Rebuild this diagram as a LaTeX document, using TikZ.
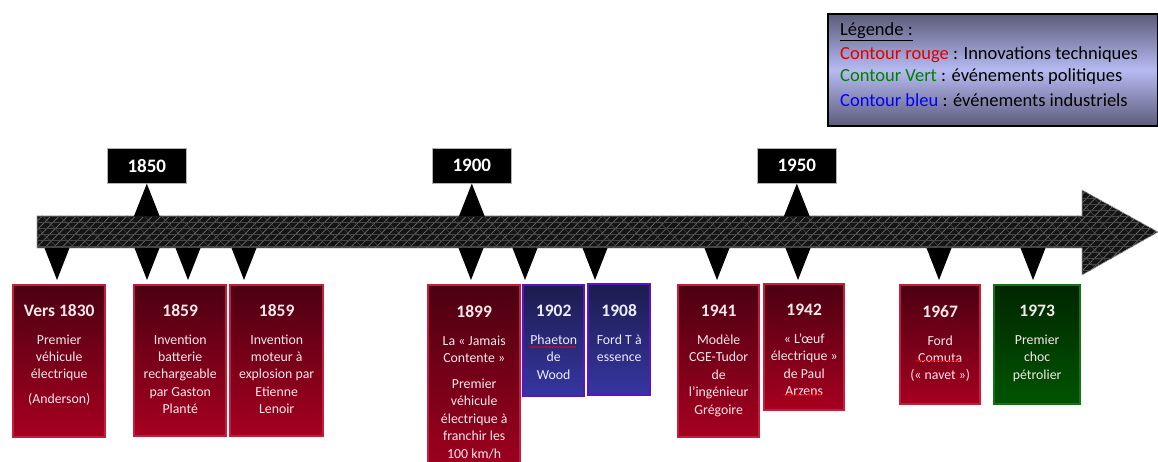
\documentclass[tikz,border=0pt]{standalone}
\usepackage{fontspec}
\setmainfont{Carlito}
\usetikzlibrary{patterns.meta,decorations.pathmorphing}

\definecolor{redborder}{HTML}{C41E3E}
\definecolor{redtop}{HTML}{4C0012}
\definecolor{redbot}{HTML}{A6001F}
\definecolor{blueborder}{HTML}{5A14C8}
\definecolor{bluetop}{HTML}{1C1C4E}
\definecolor{bluebot}{HTML}{3636A2}
\definecolor{greenborder}{HTML}{147214}
\definecolor{greentop}{HTML}{002600}
\definecolor{greenbot}{HTML}{005400}
\definecolor{redtext}{HTML}{F8E8EC}
\definecolor{bluetext}{HTML}{ECECFF}
\definecolor{legtop}{HTML}{5C5C7A}
\definecolor{legmid}{HTML}{B6BAF2}
\definecolor{legred}{HTML}{E00000}
\definecolor{leggreen}{HTML}{008000}
\definecolor{legblue}{HTML}{0000FF}

\tikzset{
  evbox/.style={anchor=north west, inner sep=0pt, line width=2.4pt},
  redbox/.style={evbox, draw=redborder, top color=redtop, bottom color=redbot},
  bluebox/.style={evbox, draw=blueborder, top color=bluetop, bottom color=bluebot},
  greenbox/.style={evbox, draw=greenborder, top color=greentop, bottom color=greenbot},
  evtext/.style={anchor=north, inner sep=0pt, align=center, text=redtext,
    font=\fontsize{13.8}{17.4}\selectfont},
  yearbox/.style={anchor=north west, fill=black, draw=gray!60, line width=0.6pt,
    minimum width=79pt, minimum height=35pt, inner sep=0pt, text=white,
    font=\fontsize{19}{20}\selectfont\bfseries},
  tick/.style={fill=black},
  legtext/.style={anchor=west, inner sep=0pt, font=\fontsize{18.5}{20}\selectfont},
  spell/.style={draw=red, line width=0.5pt,
    decorate, decoration={snake, amplitude=0.7pt, segment length=3pt}}
}
\newcommand\yr[1]{{\fontsize{17.5}{17.4}\selectfont\bfseries #1}}
% downward marker under the time axis, apex at (#2,280)
\newcommand\downmark[2]{\coordinate (#1) at (#2,280);
  \fill[tick] (#1) -- ++(-12.5,-32) -- ++(25,0) -- cycle;}
% upward marker from a year label down to the axis
\newcommand\upmark[1]{\fill[tick] (#1.south) -- ++(-13,33) -- ++(26,0) -- cycle;}

\begin{document}
\begin{tikzpicture}[x=1pt,y=-1pt]
\clip (0,0) rectangle (1158,462);
\fill[white] (0,0) rectangle (1158,462);

% time axis arrow
\path[fill=black!92, draw=gray!70, line width=0.6pt,
      postaction={pattern={Lines[angle=45,distance=6pt,line width=0.7pt]}, pattern color=gray!85!black},
      postaction={pattern={Lines[angle=-45,distance=12pt,line width=0.45pt]}, pattern color=gray!60!black},
      postaction={pattern={Lines[angle=0,distance=6pt,line width=0.35pt]}, pattern color=gray!55!black}]
  (37,216) -- (1082,216) -- (1082,190) -- (1158,232) -- (1082,275) -- (1082,248) -- (37,248) -- cycle;

% year labels above the axis
\node[yearbox] (y1850) at (107,148) {1850};
\node[yearbox] (y1900) at (432,148) {1900};
\node[yearbox] (y1950) at (757,148) {1950};
\upmark{y1850}
\upmark{y1900}
\upmark{y1950}

% markers below the axis
\downmark{m1830}{57}
\downmark{m1859a}{147}
\downmark{m1859b}{188}
\downmark{m1859c}{244}
\downmark{m1899}{471}
\downmark{m1902}{525}
\downmark{m1908}{595}
\downmark{m1941}{717}
\downmark{m1942}{798}
\downmark{m1967}{939}
\downmark{m1973}{1033}

% event boxes
\node[redbox, minimum width=92pt, minimum height=152pt] (e1830) at (12,284) {};
\node[redbox, minimum width=92pt, minimum height=151pt] (e1859a) at (133,284) {};
\node[redbox, minimum width=93pt, minimum height=151pt] (e1859b) at (229,284) {};
\node[redbox, minimum width=92pt, minimum height=200pt] (e1899) at (427,284) {};
\node[bluebox, minimum width=61pt, minimum height=111pt] (e1902) at (522,284) {};
\node[bluebox, minimum width=62pt, minimum height=111pt] (e1908) at (587,283) {};
\node[redbox, minimum width=81pt, minimum height=152pt] (e1941) at (677,284) {};
\node[redbox, minimum width=80pt, minimum height=126pt] (e1942) at (763,283) {};
\node[redbox, minimum width=80pt, minimum height=119pt] (e1967) at (899,284) {};
\node[greenbox, minimum width=86pt, minimum height=119pt] (e1973) at (993,284) {};

% event texts
\node[evtext] (t1830) at (e1830.north |- 0,304) {\yr{Vers 1830}\\[10.5pt]Premier\\véhicule\\électrique\\[7.5pt](Anderson)};
\node[evtext] (t1859a) at (e1859a.north |- 0,304) {\yr{1859}\\[10.5pt]Invention\\batterie\\rechargeable\\par Gaston\\Planté};
\node[evtext] (t1859b) at (e1859b.north |- 0,304) {\yr{1859}\\[10.5pt]Invention\\moteur à\\explosion par\\Etienne\\Lenoir};
\node[evtext] (t1899) at (e1899.north |- 0,305) {\yr{1899}\\[10.5pt]La « Jamais\\Contente »\\[8.5pt]Premier\\véhicule\\électrique à\\franchir les\\100 km/h};
\node[evtext, text=bluetext] (t1902) at (e1902.north |- 0,305) {\yr{1902}\\[10.5pt]Phaeton\\de\\Wood};
\node[evtext, text=bluetext] (t1908) at (e1908.north |- 0,304) {\yr{1908}\\[10.5pt]Ford T à\\essence};
\node[evtext] (t1941) at (e1941.north |- 0,305) {\yr{1941}\\[10.5pt]Modèle\\CGE-Tudor\\de\\l’ingénieur\\Grégoire};
\node[evtext] (t1942) at (e1942.north |- 0,304) {\yr{1942}\\[10.5pt]« L’œuf\\électrique »\\de Paul\\Arzens};
\node[evtext] (t1967) at (e1967.north |- 0,305) {\yr{1967}\\[10.5pt]Ford\\Comuta\\(« navet »)};
\node[evtext] (t1973) at (e1973.north |- 0,305) {\yr{1973}\\[10.5pt]Premier\\choc\\pétrolier};

% spell-check marks
\draw[spell] (529,347) -- (576,347);
\draw[spell] (916,361) -- (961,361);
\draw[spell] (783,395) -- (822,395);

% legend
\node[anchor=north west, draw=black, line width=2pt, inner sep=0pt,
      top color=legtop, bottom color=legtop, middle color=legmid,
      minimum width=330pt, minimum height=112pt] (legend) at (827,13) {};
\node[legtext] (lg0) at (840,32) {\underline{Légende :}};
\node[legtext] (lg1) at (840,55) {\textcolor{legred}{Contour rouge} : Innovations techniques};
\node[legtext] (lg2) at (840,77) {\textcolor{leggreen}{Contour Vert} : événements politiques};
\node[legtext] (lg3) at (840,100) {\textcolor{legblue}{Contour bleu} : événements industriels};
\end{tikzpicture}
\end{document}
